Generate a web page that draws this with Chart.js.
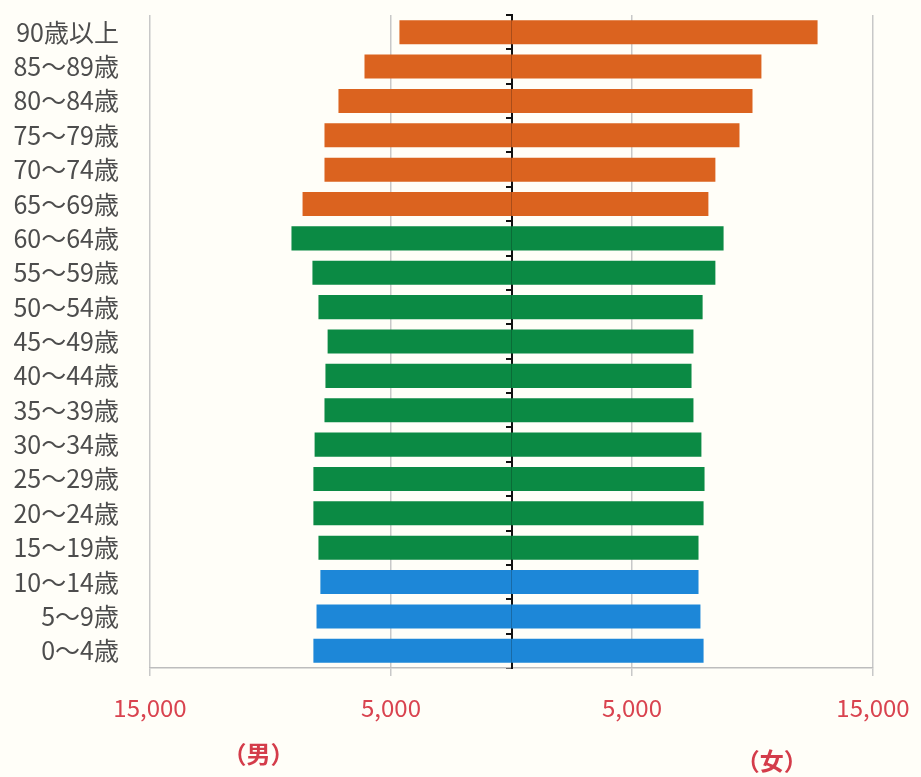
<!DOCTYPE html>
<html>
<head>
<meta charset="utf-8">
<script src="https://cdn.jsdelivr.net/npm/chart.js@4.4.0/dist/chart.umd.min.js"></script>
<style>
  body { margin: 0; background: #fffef8; }
  #pyramid_container { position: relative; width: 921px; height: 777px; }
</style>
</head>
<body>
<div id="pyramid_container"><canvas id="pyramid_plot"></canvas></div>
<script>
// age groups, top to bottom
const AGE_LABELS = ['90歳以上', '85～89歳', '80～84歳', '75～79歳', '70～74歳', '65～69歳',
  '60～64歳', '55～59歳', '50～54歳', '45～49歳', '40～44歳', '35～39歳', '30～34歳',
  '25～29歳', '20～24歳', '15～19歳', '10～14歳', '5～9歳', '0～4歳'];

// population (persons)
const MALE = [4650, 6100, 7180, 7760, 7760, 8670, 9130, 8260, 8010, 7630, 7720, 7760, 8170,
  8220, 8220, 8010, 7930, 8090, 8220];
const FEMALE = [12700, 10370, 10000, 9460, 8460, 8170, 8800, 8460, 7930, 7550, 7470, 7550, 7880,
  8010, 7970, 7760, 7760, 7840, 7970];

const X_TICKS = [-15000, -5000, 5000, 15000];
const SIDE_LABELS = [{text: '（男）', value: -10500, dy: 86}, {text: '（女）', value: 10800, dy: 93}];

function barColor(i) {
  if (i < 6) return '#db631f';        // 65+
  if (i < 16) return '#0b8a44';       // 15-64
  return '#1d87d8';                   // 0-14
}
const colors = AGE_LABELS.map((l, i) => barColor(i));

const sideLabels = {
  id: 'sideLabels',
  afterDraw(chart) {
    const ctx = chart.ctx, x = chart.scales.x;
    ctx.save();
    ctx.fillStyle = '#d43c4a';
    ctx.font = 'bold 24px "Noto Sans CJK JP"';
    ctx.textAlign = 'center';
    ctx.textBaseline = 'middle';
    SIDE_LABELS.forEach(s => {
      ctx.fillText(s.text, x.getPixelForValue(s.value), chart.chartArea.bottom + s.dy);
    });
    ctx.restore();
  }
};

let ctx = document.getElementById('pyramid_plot');
window.pyramid_plot = new Chart(ctx, {
  type: 'bar',
  data: {
    labels: AGE_LABELS,
    datasets: [
      { label: '男', data: MALE.map(v => -v), backgroundColor: colors, barPercentage: 0.7, categoryPercentage: 1 },
      { label: '女', data: FEMALE, backgroundColor: colors, barPercentage: 0.7, categoryPercentage: 1 }
    ]
  },
  options: {
    indexAxis: 'y',
    responsive: true,
    maintainAspectRatio: false,
    animation: false,
    layout: { padding: { top: 15, right: 48, left: 0, bottom: 0 } },
    plugins: { legend: { display: false }, tooltip: { enabled: false } },
    scales: {
      x: {
        stacked: true,
        min: -15000,
        max: 15000,
        afterBuildTicks: (scale) => { scale.ticks = X_TICKS.map(v => ({value: v})); },
        afterFit: (scale) => { scale.height = 109; scale.paddingLeft = 0; scale.paddingRight = 0; },
        grid: { color: '#c8c8c8', lineWidth: 1.5, tickLength: 8 },
        border: { color: '#bdbdbd', width: 1.5 },
        ticks: {
          padding: 17,
          color: '#d9434f',
          font: { family: 'Noto Sans CJK JP', size: 24 },
          callback: (v) => Math.abs(v).toLocaleString('en-US')
        }
      },
      y: {
        stacked: true,
        afterFit: (scale) => { scale.width = 150; scale.paddingTop = 0; scale.paddingBottom = 0; },
        grid: { display: false },
        border: { display: false },
        ticks: {
          padding: 23,
          color: '#4d4d4d',
          font: { family: 'Noto Sans CJK JP', size: 25 }
        }
      },
      y2: {
        axis: 'y',
        type: 'category',
        position: { x: 0 },
        offset: true,
        grid: { offset: true, drawOnChartArea: false, color: '#111', lineWidth: 2, tickLength: 5 },
        border: { color: '#111', width: 2 },
        ticks: { display: false }
      }
    }
  },
  plugins: [sideLabels]
});
</script>
</body>
</html>
